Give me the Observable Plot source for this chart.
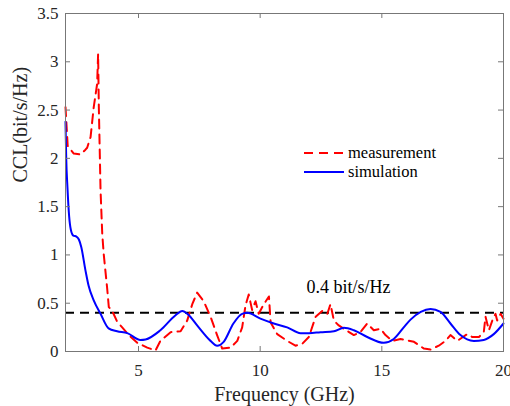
<!DOCTYPE html>
<html>
<head>
<meta charset="utf-8">
<script src="https://cdn.jsdelivr.net/npm/d3@7"></script>
<script src="https://cdn.jsdelivr.net/npm/@observablehq/plot@0.6"></script>
<style>
  body { margin: 0; background: #fff; }
  #wrap { position: relative; width: 510px; height: 406px; }
  #wrap svg text { font-family: 'Liberation Serif', 'Times New Roman', serif !important; }
  #legend { position: absolute; left: 304px; top: 143px; font-family: 'Liberation Serif', 'Times New Roman', serif; font-size: 16.5px; color: #000; }
  #legend .row { display: flex; align-items: center; height: 19px; }
  #legend svg { margin-right: 4px; }
</style>
</head>
<body>
<div id="wrap"></div>
<script>
// ---- data ----
const simFreq = [2.0, 2.03, 2.08, 2.15, 2.22, 2.32, 2.45, 2.55, 2.65, 2.82, 2.95, 3.16, 3.44, 3.77, 4.12, 4.54, 5.08, 5.29, 5.9, 6.5, 6.8, 7.05, 7.41, 7.96, 8.23, 8.5, 8.9, 9.26, 9.47, 10.01, 10.56, 11.11, 11.66, 12.0, 12.48, 13.03, 13.44, 13.85, 14.4, 15.08, 15.49, 15.9, 16.18, 16.6, 17.0, 17.41, 17.82, 18.23, 18.78, 19.19, 19.6, 20.0];
const simVal  = [2.38, 2.0, 1.7, 1.4, 1.26, 1.2, 1.19, 1.16, 1.08, 0.84, 0.68, 0.53, 0.39, 0.24, 0.21, 0.19, 0.12, 0.125, 0.22, 0.37, 0.42, 0.38, 0.27, 0.11, 0.06, 0.1, 0.29, 0.39, 0.40, 0.34, 0.29, 0.25, 0.19, 0.19, 0.2, 0.21, 0.245, 0.22, 0.15, 0.09, 0.13, 0.25, 0.33, 0.41, 0.44, 0.41, 0.29, 0.17, 0.11, 0.12, 0.18, 0.29];

const measFreq = [2.0, 2.09, 2.34, 2.62, 2.82, 2.89, 3.03, 3.16, 3.30, 3.34, 3.37, 3.44, 3.51, 3.57, 3.71, 3.78, 3.92, 4.12, 4.33, 4.60, 4.95, 5.36, 5.70, 5.90, 6.32, 6.73, 7.0, 7.21, 7.41, 7.68, 7.96, 8.23, 8.44, 8.78, 9.06, 9.26, 9.40, 9.53, 9.67, 9.81, 9.94, 10.15, 10.36, 10.43, 10.70, 11.11, 11.45, 11.73, 12.0, 12.28, 12.55, 12.76, 12.89, 13.03, 13.23, 13.44, 13.85, 14.12, 14.40, 14.67, 14.95, 15.15, 15.43, 15.77, 16.32, 16.73, 17.0, 17.34, 17.62, 17.82, 18.1, 18.51, 18.72, 18.99, 19.19, 19.26, 19.40, 19.54, 19.67, 19.74, 19.88, 20.0];
const measVal  = [2.53, 2.13, 2.05, 2.04, 2.09, 2.11, 2.22, 2.53, 2.77, 3.08, 2.53, 1.67, 1.22, 1.01, 0.66, 0.46, 0.42, 0.31, 0.25, 0.17, 0.09, 0.04, 0.01, 0.11, 0.2, 0.21, 0.32, 0.49, 0.61, 0.52, 0.36, 0.17, 0.03, 0.04, 0.11, 0.25, 0.48, 0.59, 0.43, 0.52, 0.39, 0.49, 0.57, 0.3, 0.18, 0.11, 0.06, 0.08, 0.15, 0.36, 0.42, 0.39, 0.49, 0.32, 0.27, 0.235, 0.17, 0.2, 0.29, 0.22, 0.235, 0.17, 0.11, 0.13, 0.1, 0.03, 0.02, 0.06, 0.11, 0.17, 0.11, 0.18, 0.15, 0.15, 0.2, 0.36, 0.22, 0.32, 0.39, 0.32, 0.39, 0.34];

const threshold = 0.4;
const thresholdLabel = "0.4 bit/s/Hz";
const thresholdLabelFreq = 11.9;
const xTicks = [5, 10, 15, 20];
const yTicks = [0, 0.5, 1, 1.5, 2, 2.5, 3, 3.5];
const seriesNames = ["measurement", "simulation"];
const xLabel = "Frequency (GHz)";
const yLabel = "CCL(bit/s/Hz)";

// ---- build ----
const sim = simFreq.map((f, i) => ({f, v: simVal[i]}));
const meas = measFreq.map((f, i) => ({f, v: measVal[i]}));

const W = 510, H = 406, mL = 65, mR = 7, mT = 13, mB = 55;
const pw = W - mL - mR, ph = H - mT - mB;
const font = "'Liberation Serif', 'Times New Roman', serif";
const axisColor = "#777";
const textColor = "#262626";

const chart = Plot.plot({
  width: W, height: H,
  marginLeft: mL, marginRight: mR, marginTop: mT, marginBottom: mB,
  style: {fontFamily: font, background: "#fff", color: textColor},
  x: {domain: [2, 20]},
  y: {domain: [0, 3.5]},
  marks: [
    Plot.ruleY([threshold], {stroke: "#000", strokeWidth: 2, strokeDasharray: "9,6"}),
    Plot.line(meas, {x: "f", y: "v", stroke: "#ff0000", strokeWidth: 2, strokeDasharray: "9,6"}),
    Plot.line(sim, {x: "f", y: "v", stroke: "#0000ff", strokeWidth: 2, curve: "monotone-x"}),
    Plot.text([thresholdLabel], {x: thresholdLabelFreq, y: threshold, text: d => d, textAnchor: "start", lineAnchor: "middle", dy: -26, fontSize: 18, fontFamily: font, fill: "#000"}),
    Plot.frame({stroke: axisColor, strokeWidth: 1}),
    // inward ticks
    Plot.tickX(xTicks, {x: d => d, insetTop: ph - 5, stroke: axisColor}),
    Plot.tickX(xTicks, {x: d => d, insetBottom: ph - 5, stroke: axisColor}),
    Plot.tickY(yTicks, {y: d => d, insetRight: pw - 5, stroke: axisColor}),
    Plot.tickY(yTicks, {y: d => d, insetLeft: pw - 5, stroke: axisColor}),
    Plot.axisX(xTicks, {tickSize: 0, tickPadding: 12, fontSize: 17, fontFamily: font, label: null, fill: textColor}),
    Plot.axisY(yTicks, {tickSize: 0, tickPadding: 7, fontSize: 17, fontFamily: font, label: null, fill: textColor, tickFormat: d => String(d)}),
    Plot.text([xLabel], {frameAnchor: "bottom", text: d => d, dy: 42.6, lineAnchor: "middle", fontSize: 20, fontFamily: font, fill: textColor}),
    Plot.text([yLabel], {frameAnchor: "left", text: d => d, rotate: -90, dx: -45, lineAnchor: "middle", fontSize: 20, fontFamily: font, fill: textColor})
  ]
});

const wrap = document.getElementById("wrap");
wrap.appendChild(chart);

// legend overlay
const legend = document.createElement("div");
legend.id = "legend";
const styles = [
  {stroke: "#ff0000", dash: "9,6"},
  {stroke: "#0000ff", dash: null}
];
seriesNames.forEach((name, i) => {
  const row = document.createElement("div");
  row.className = "row";
  const s = styles[i];
  row.innerHTML = `<svg width="40" height="6"><line x1="0" y1="3" x2="40" y2="3" stroke="${s.stroke}" stroke-width="2" ${s.dash ? `stroke-dasharray="${s.dash}"` : ""}/></svg><span>${name}</span>`;
  legend.appendChild(row);
});
wrap.appendChild(legend);
</script>
</body>
</html>
